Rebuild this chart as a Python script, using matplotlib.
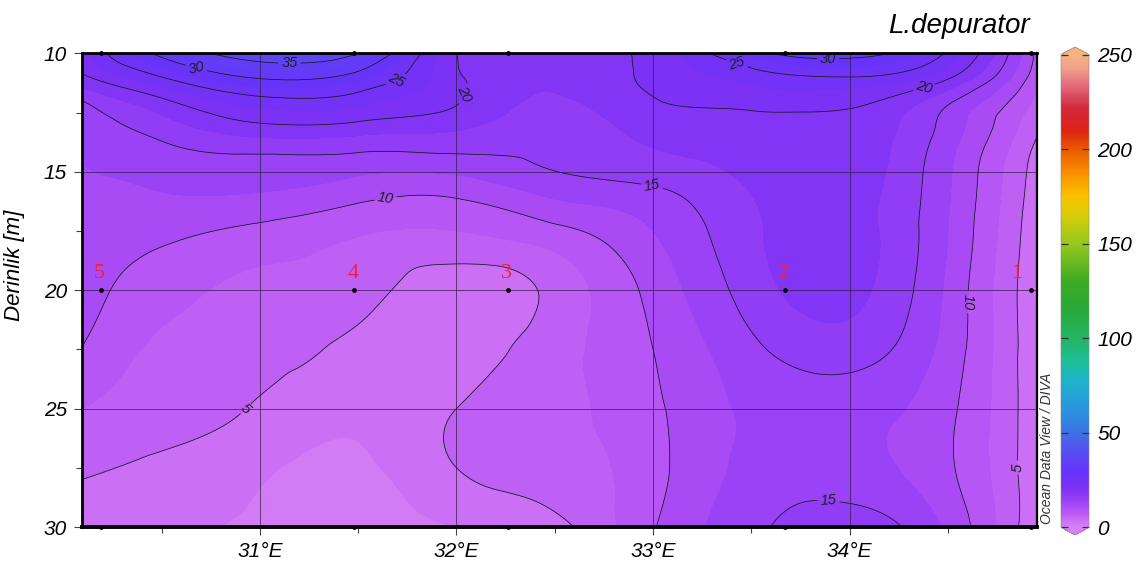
import numpy as np
import matplotlib
matplotlib.use('Agg')
import matplotlib.pyplot as plt
import matplotlib.tri as mtri
from matplotlib import font_manager
from matplotlib.colors import LinearSegmentedColormap, Normalize
from matplotlib.cm import ScalarMappable
from matplotlib.ticker import MultipleLocator, FixedLocator

# ---- stations (section along the coast) ----
station_ids = ['5', '4', '3', '2', '1']
station_lon = [30.19, 31.48, 32.26, 33.67, 34.92]
sample_depths = [10, 20, 30]

# ---- gridded abundance (L.depurator) on lon x depth nodes ----
lon_nodes = [30.097, 30.5, 31.0, 31.5, 32.0, 32.5, 33.0, 33.5, 34.0, 34.5, 34.95]
depth_nodes = [10, 11, 12, 13, 14, 15.5, 17.5, 20, 22.5, 25, 27.5, 30]
abundance = [
    [21.5, 31.0, 37.5, 35.0, 20.0, 18.5, 21.0, 28.5, 31.5, 24.5, 9.5],   # 10 m
    [19.5, 25.0, 30.5, 28.5, 20.5, 18.0, 20.7, 23.5, 25.0, 20.5, 8.5],   # 11 m
    [15.0, 19.5, 24.0, 23.5, 20.2, 17.2, 19.8, 21.0, 20.8, 15.6, 7.0],   # 12 m
    [13.5, 16.5, 19.8, 19.5, 18.2, 16.3, 18.5, 18.8, 19.2, 14.0, 5.6],   # 13 m
    [12.8, 14.5, 15.8, 15.6, 15.7, 15.8, 17.5, 18.5, 19.0, 13.3, 4.5],   # 14 m
    [12.3, 12.8, 13.0, 11.8, 11.5, 14.0, 15.2, 17.8, 18.7, 12.8, 3.8],   # 15.5 m
    [11.8, 10.7, 9.3, 7.8, 7.5, 9.3, 12.5, 17.0, 18.5, 12.5, 3.3],       # 17.5 m
    [11.0, 8.5, 7.0, 6.0, 3.5, 5.8, 10.8, 16.2, 18.2, 12.0, 3.0],        # 20 m
    [9.9, 7.0, 6.0, 4.2, 3.6, 6.5, 10.0, 14.4, 16.2, 11.5, 3.0],         # 22.5 m
    [7.5, 6.0, 4.7, 3.0, 5.0, 6.8, 9.5, 13.0, 13.5, 10.6, 3.2],          # 25 m
    [5.4, 4.5, 3.0, 2.0, 5.0, 6.3, 9.2, 13.2, 13.5, 10.4, 3.2],          # 27.5 m
    [3.5, 3.0, 2.0, 1.5, 2.5, 4.2, 9.8, 14.3, 16.5, 12.0, 3.0],          # 30 m
]

contour_levels = [5, 10, 15, 20, 25, 30, 35]
label_spots = [(30.68, 10.5), (31.15, 10.55), (31.69, 11.1), (32.07, 11.85),
               (31.64, 16.15), (33.0, 15.4), (33.42, 10.6), (33.89, 10.2),
               (34.38, 11.5), (34.58, 20.5), (34.81, 27.5), (30.91, 24.85),
               (33.89, 29.3)]

# ODV-like palette, 0..250
palette = [
    (0, (214, 128, 245)), (5, (195, 100, 245)), (10, (172, 78, 245)),
    (15, (148, 62, 245)), (20, (125, 50, 245)), (28, (105, 50, 248)),
    (35, (95, 65, 245)), (45, (75, 95, 235)), (55, (50, 130, 225)),
    (65, (40, 155, 220)), (78, (30, 180, 200)), (88, (30, 190, 150)),
    (100, (35, 180, 100)), (115, (40, 170, 60)), (130, (60, 170, 35)),
    (150, (150, 200, 30)), (165, (215, 205, 10)), (175, (250, 195, 0)),
    (187, (250, 145, 0)), (200, (235, 90, 0)), (210, (222, 35, 20)),
    (222, (210, 40, 60)), (233, (225, 100, 120)), (243, (240, 160, 140)),
    (250, (245, 178, 130)),
]
odv = LinearSegmentedColormap.from_list(
    'odv', [(v / 250.0, tuple(c / 255.0 for c in rgb)) for v, rgb in palette])

names = {f.name for f in font_manager.fontManager.ttflist}
sans = 'Liberation Sans Narrow' if 'Liberation Sans Narrow' in names else 'Liberation Sans'
plt.rcParams['font.family'] = [sans, 'DejaVu Sans']

W, H = 1136, 565
fig = plt.figure(figsize=(W / 100, H / 100), dpi=100)
ax = fig.add_axes([82.3 / W, 1 - 527 / H, (1036.5 - 82.3) / W, (527 - 53.3) / H])

# interpolate the node values onto a fine section grid
LON, DEP = np.meshgrid(lon_nodes, depth_nodes)
px, py = 196.7, 23.7   # roughly isotropic in screen space
tri = mtri.Triangulation(LON.ravel() * px, DEP.ravel() * py)
interp = mtri.CubicTriInterpolator(tri, np.array(abundance).ravel(), kind='min_E')
gx = np.linspace(lon_nodes[0] + 1e-6, lon_nodes[-1] - 1e-6, 500)
gy = np.linspace(depth_nodes[0] + 1e-6, depth_nodes[-1] - 1e-6, 400)
GX, GY = np.meshgrid(gx, gy)
Z = interp(GX * px, GY * py)
Z = np.clip(Z.filled(np.nan), 0, None)

ax.contourf(GX, GY, Z, levels=np.arange(0, 252.5, 2.5), cmap=odv, vmin=0, vmax=250,
            extend='both')
cs = ax.contour(GX, GY, Z, levels=contour_levels, colors='#181818', linewidths=0.55)
lbls = ax.clabel(cs, fmt='%d', fontsize=10.5, inline=True, inline_spacing=3,
                 manual=label_spots)
for t in lbls:
    t.set_fontstyle('italic')
    t.set_color('#202020')

# grid
for lon in [31, 32, 33, 34]:
    ax.axvline(lon, color='#2a1a40', lw=0.6, alpha=0.8, zorder=3)
for d in [15, 20, 25]:
    ax.axhline(d, color='#2a1a40', lw=0.6, alpha=0.8, zorder=3)

# stations
for sid, lon in zip(station_ids, station_lon):
    ax.scatter([lon] * len(sample_depths), sample_depths, s=12, color='black',
               zorder=6, clip_on=False, linewidths=0)
    dx = -10 if sid == '1' else -1
    ax.annotate(sid, (lon, 20), xytext=(dx, 5), textcoords='offset points',
                ha='center', va='bottom', color='#f0203c', fontsize=16,
                family='Liberation Serif', zorder=7)

ax.set_xlim(lon_nodes[0], lon_nodes[-1])
ax.set_ylim(30, 10)
ax.xaxis.set_major_locator(FixedLocator([31, 32, 33, 34]))
ax.xaxis.set_minor_locator(FixedLocator([30.5, 31.5, 32.5, 33.5, 34.5]))
ax.set_xticklabels(['31°E', '32°E', '33°E', '34°E'])
ax.yaxis.set_major_locator(MultipleLocator(5))
ax.yaxis.set_minor_locator(MultipleLocator(2.5))
ax.tick_params(which='major', length=6, width=0.8, color='#444444', labelsize=15, pad=5)
ax.tick_params(which='minor', length=4, width=0.8, color='#444444')
for lab in ax.get_xticklabels() + ax.get_yticklabels():
    lab.set_fontstyle('italic')
for side, lw in [('left', 2.0), ('bottom', 2.8), ('top', 2.0), ('right', 1.6)]:
    ax.spines[side].set_linewidth(lw)
    ax.spines[side].set_color('black')
    ax.spines[side].set_zorder(8)

ax.set_ylabel('Derinlik [m]', fontsize=16, fontstyle='italic')
ax.yaxis.set_label_coords(-0.060, 0.553)

fig.text(1030 / W, 1 - 33 / H, 'L.depurator', ha='right', va='baseline',
         fontsize=20, fontstyle='italic')
fig.text(1047 / W, 1 - 524 / H, 'Ocean Data View / DIVA', rotation=90,
         ha='center', va='bottom', fontsize=10, fontstyle='italic', color='#333333')

# colour bar
cax = fig.add_axes([1061 / W, 1 - 535 / H, 28 / W, 488 / H])
sm = ScalarMappable(norm=Normalize(0, 250), cmap=odv)
cb = fig.colorbar(sm, cax=cax, extend='both', extendfrac=0.016)
cb.set_ticks([0, 50, 100, 150, 200, 250])
cb.outline.set_linewidth(0.4)
cb.outline.set_edgecolor('#888888')
cax.tick_params(direction='in', left=True, right=True, length=5, width=0.9,
                color='#333333', labelsize=15, pad=6)
for lab in cax.get_yticklabels():
    lab.set_fontstyle('italic')

fig.savefig('out.png', dpi=100)
